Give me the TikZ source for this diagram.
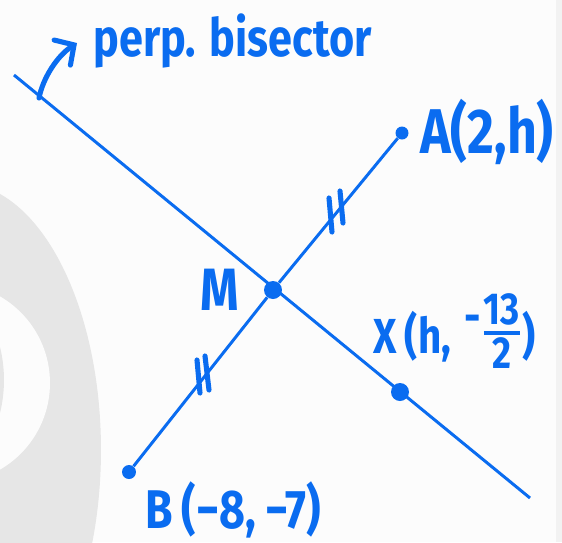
\documentclass[tikz,border=0pt]{standalone}
\usepackage{fontspec}
\usepackage{amsmath}
\usepackage{tikz}
\usetikzlibrary{arrows.meta}
\newfontfamily\handfont[FakeStretch=0.82]{Fira Sans}
\definecolor{penblue}{HTML}{0A6CF0}
\definecolor{markgray}{HTML}{E6E6E6}
\definecolor{paper}{HTML}{FCFCFC}

\begin{document}
\begin{tikzpicture}[
  x=0.02cm, y=-0.02cm,
  vertex/.style={circle, fill=penblue, inner sep=0pt, minimum size=#1},
  vertex/.default=3.6mm,
  seg/.style={draw=penblue, line width=1.7pt},
  hatch/.style={draw=penblue, line width=2.9pt, line cap=round},
  pointer/.style={draw=penblue, line width=2.9pt, line cap=round,
    -{Straight Barb[length=8pt, width=17pt, line cap=round]}},
  tag/.style={text=penblue, anchor=base west, inner sep=0pt}
]
  \useasboundingbox (0,0) rectangle (562,542);
  \begin{scope}
    \clip (0,0) rectangle (562,542);
    \fill[paper] (0,0) rectangle (562,542);
    \fill[markgray] (-40,450) ellipse [x radius=2.82cm, y radius=5.34cm];
    \fill[paper] (-50,383) circle [radius=2cm];
    \fill[markgray] (-134,380) circle [radius=2.76cm];
    \fill[black!5] (556,0) rectangle (562,542);
  \end{scope}

  \coordinate (bisstart) at (14,75);
  \coordinate (bisend) at (530,498);
  \draw[seg] (bisstart) -- (bisend);

  \node[vertex=2.6mm] (A) at (402,133) {};
  \node[vertex] (M) at (273,290) {};
  \node[vertex=2.8mm] (B) at (129,472) {};
  \node[vertex] (X) at (400,392) {};

  \draw[seg] (A) -- (M);
  \draw[seg] (M) -- (B);

  \draw[hatch] (329,198) -- (332,232);
  \draw[hatch] (340,191) -- (343,223);
  \draw[hatch] (197,360) -- (200,393);
  \draw[hatch] (205,356) -- (209,390);

  \coordinate (footpt) at (39,98);
  \coordinate (tippt) at (77,43);
  \draw[pointer] (footpt) .. controls (43,78) and (57,56) .. (tippt);

  \node[tag, font=\handfont\bfseries\fontsize{30pt}{34pt}\selectfont]
    (bislabel) at (93,56) {perp. bisector};
  \node[tag, font=\handfont\bfseries\fontsize{36pt}{40pt}\selectfont]
    (Alabel) at (420,153) {A(2,h)};
  \node[tag, font=\handfont\bfseries\fontsize{34pt}{40pt}\selectfont]
    (Mlabel) at (200,310) {M};
  \node[tag, font=\handfont\bfseries\fontsize{28pt}{32pt}\selectfont]
    (Xlabel) at (373,353) {X\,(h,\;\raisebox{0.4em}{-}\raisebox{0.12em}{\scalebox{1.3}{$\genfrac{}{}{1.5pt}{1}{\text{13}}{\text{2}}$}})};
  \node[tag, font=\handfont\bfseries\fontsize{31pt}{36pt}\selectfont]
    (Blabel) at (145,528) {B\,(−8,\,−7)};
\end{tikzpicture}
\end{document}
